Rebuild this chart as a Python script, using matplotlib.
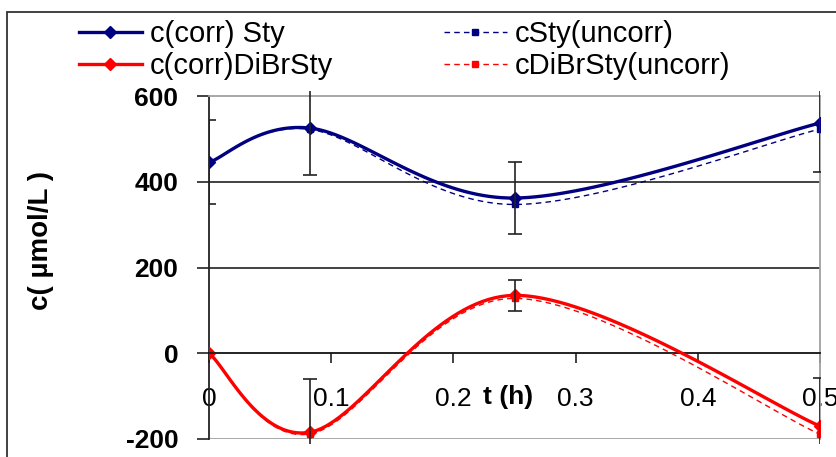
import numpy as np
import matplotlib
matplotlib.use("Agg")
import matplotlib.pyplot as plt
from matplotlib.patches import Rectangle
from matplotlib.lines import Line2D

plt.rcParams['font.family'] = ['Liberation Sans', 'DejaVu Sans']

# ------------------------------
# Data
# ------------------------------
t_h = [0.0, 0.083, 0.25, 0.5]

sty_corr = [445, 525, 362, 537]
sty_uncorr = [445, 522, 347, 523]
sty_err = [98, 110, 83, 115]

dibr_corr = [0, -184, 135, -170]
dibr_uncorr = [0, -188, 128, -189]
dibr_err = [0, 123, 36, 112]

x_ticks = [0, 0.1, 0.2, 0.3, 0.4, 0.5]
x_ticklabels = ["0", "0.1", "0.2", "0.3", "0.4", "0.5"]
y_ticks = [-200, 0, 200, 400, 600]

NAVY = "#000080"
RED = "#FF0000"


def excel_smooth(x, y, n=40):
    # cubic Bezier through the points, like an Excel "smoothed line"
    p = np.column_stack([x, y]).astype(float)
    ext = np.vstack([p[0], p, p[-1]])
    xs, ys = [], []
    s = np.linspace(0, 1, n)[:, None]
    for i in range(len(p) - 1):
        p0, p1 = ext[i + 1], ext[i + 2]
        c1 = p0 + (ext[i + 2] - ext[i]) / 6.0
        c2 = p1 - (ext[i + 3] - ext[i + 1]) / 6.0
        b = ((1 - s) ** 3) * p0 + 3 * ((1 - s) ** 2) * s * c1 + 3 * (1 - s) * s ** 2 * c2 + s ** 3 * p1
        xs.append(b[:, 0])
        ys.append(b[:, 1])
    return np.concatenate(xs), np.concatenate(ys)


# ------------------------------
# Figure
# ------------------------------
fig = plt.figure(figsize=(8.36, 4.57), dpi=100)
ax = fig.add_axes([209 / 836, 1 - 439 / 457, 611 / 836, 343 / 457])

# uncorrected (dashed)
for vals, col in [(sty_uncorr, NAVY), (dibr_uncorr, RED)]:
    sx, sy = excel_smooth(t_h, vals)
    ax.plot(sx, sy, color=col, lw=1.0, ls=(0, (4, 3)), zorder=3)
    ax.plot(t_h, vals, ls="none", marker="s", ms=5, color=col, zorder=3)

# corrected (solid) with error bars
for vals, err, col in [(sty_corr, sty_err, NAVY), (dibr_corr, dibr_err, RED)]:
    sx, sy = excel_smooth(t_h, vals)
    ax.plot(sx, sy, color=col, lw=2.4, zorder=4)
    ax.plot(t_h, vals, ls="none", marker="D", ms=6, color=col, zorder=4)
    eb = ax.errorbar(t_h, vals, yerr=err, fmt="none", ecolor="#222222",
                     elinewidth=1.2, capsize=5, capthick=1.2, zorder=5)
    clip = Rectangle((0, -0.015), 1, 1.03, transform=ax.transAxes, visible=False)
    ax.add_patch(clip)
    for art in list(eb[1]) + list(eb[2]):
        art.set_clip_path(clip)

ax.set_xlim(0, 0.5)
ax.set_ylim(-200, 600)

# gridlines and plot-area border
for yv in [200, 400]:
    ax.axhline(yv, color="#333333", lw=1.3, zorder=1)
ax.axhline(-200, color="#a0a0a0", lw=1.3, zorder=1)
ax.spines["top"].set_color("#a0a0a0")
ax.spines["right"].set_color("#a0a0a0")
ax.spines["top"].set_linewidth(1.3)
ax.spines["right"].set_linewidth(1.3)
ax.spines["left"].set_color("#222222")
ax.spines["left"].set_linewidth(1.3)
ax.spines["bottom"].set_position(("data", 0))
ax.spines["bottom"].set_color("#111111")
ax.spines["bottom"].set_linewidth(1.3)

ax.set_yticks(y_ticks)
ax.set_yticklabels([str(v) for v in y_ticks], fontsize=19, fontweight="bold")
ax.tick_params(axis="y", direction="out", length=9, width=1.2, pad=13, color="#222222")

ax.set_xticks(x_ticks)
ax.set_xticklabels(x_ticklabels, fontsize=19)
ax.tick_params(axis="x", direction="out", length=7, width=1.2, pad=17, color="#222222")

ax.text(0.245, -103, "t (h)", fontsize=19, fontweight="bold", ha="center", va="center")

fig.text(41 / 836, 1 - 240 / 457, "c( µmol/L )", rotation=90, fontsize=20,
         fontweight="bold", ha="center", va="center")

# outer chart border
fig.patches.append(Rectangle((7 / 836, -0.05), 1.0, 1 - 12 / 457 + 0.05,
                             transform=fig.transFigure, fill=False,
                             ec="#333333", lw=1.3))

# ------------------------------
# Legend
# ------------------------------
handles = [
    Line2D([], [], color=NAVY, lw=2.4, marker="D", ms=6),
    Line2D([], [], color=RED, lw=2.4, marker="D", ms=6),
    Line2D([], [], color=NAVY, lw=1.0, ls=(0, (4, 3)), marker="s", ms=5),
    Line2D([], [], color=RED, lw=1.0, ls=(0, (4, 3)), marker="s", ms=5),
]
labels = ["c(corr) Sty", "c(corr)DiBrSty", "cSty(uncorr)", "cDiBrSty(uncorr)"]
fig.legend(handles, labels, ncol=2, loc="upper left",
           bbox_to_anchor=(79 / 836, 1 - 20 / 457), frameon=False,
           fontsize=21, handlelength=2.15, handletextpad=0.28,
           columnspacing=3.8, labelspacing=0.15, borderpad=0, borderaxespad=0)

fig.savefig("out.png", dpi=100)
